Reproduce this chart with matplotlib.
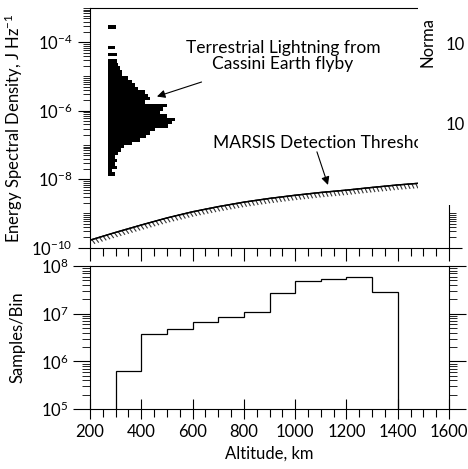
import matplotlib
matplotlib.use('Agg')
import numpy as np
import matplotlib.pyplot as plt
from matplotlib import patheffects
from matplotlib.patches import Rectangle
from matplotlib.ticker import LogLocator, MultipleLocator, NullFormatter, FixedLocator

plt.rcParams['font.family'] = ['Lato', 'DejaVu Sans']
plt.rcParams['mathtext.fontset'] = 'custom'
plt.rcParams['mathtext.rm'] = 'Lato'
plt.rcParams['mathtext.it'] = 'Lato:italic'
plt.rcParams['font.size'] = 12
plt.rcParams['axes.linewidth'] = 0.8

# samples per 100 km altitude bin
bin_edges = [300, 400, 500, 600, 700, 800, 900, 1000, 1100, 1200, 1300, 1400]
samples = [6.3e5, 3.7e6, 4.8e6, 6.7e6, 8.6e6, 1.07e7, 2.7e7, 4.8e7, 5.4e7, 5.8e7, 2.9e7]

# MARSIS detection threshold vs altitude
thr_alt = [200, 300, 400, 500, 600, 700, 800, 900, 1000, 1100, 1200, 1300, 1400, 1500, 1600]
thr_esd = [1.66e-10, 2.8e-10, 4.6e-10, 7.4e-10, 1.12e-9, 1.58e-9, 2.14e-9, 2.75e-9,
           3.4e-9, 4.1e-9, 4.8e-9, 5.75e-9, 6.8e-9, 7.8e-9, 8.9e-9]

# terrestrial lightning histogram (Cassini Earth flyby): log10 bin bottoms, bar lengths
ltg_logE = [-3.6, -4.2, -4.4, -4.6, -4.7, -4.8, -4.9, -5.0, -5.1, -5.2, -5.3, -5.4,
            -5.5, -5.6, -5.7, -5.8, -5.9, -6.0, -6.1, -6.2, -6.3, -6.4, -6.5, -6.6,
            -6.7, -6.8, -6.9, -7.0, -7.1, -7.2, -7.3, -7.4, -7.5, -7.6, -7.7, -7.8, -7.9]
ltg_len = [31, 27, 36, 34, 39, 47, 53, 53, 78, 92, 105, 117,
           144, 156, 164, 144, 229, 214, 203, 229, 261, 250, 234, 183,
           164, 148, 125, 94, 62, 51, 40, 27, 34, 27, 34, 16, 27]
ltg_left = 270
dlog = 0.1

fig = plt.figure(figsize=(4.68, 4.69), dpi=100)
ax1 = fig.add_axes([90/468, 1-247.7/469, 359/468, 239.7/469])
ax2 = fig.add_axes([90/468, 1-409/469, 359/468, 143/469])

# top panel
lo = 10.0 ** np.array(ltg_logE)
hi = 10.0 ** (np.array(ltg_logE) + dlog)
ax1.barh(lo, ltg_len, height=hi - lo, left=ltg_left, align='edge', color='black', lw=0)

ax1.plot(thr_alt, thr_esd, color='black', lw=1.0,
         path_effects=[patheffects.withTickedStroke(angle=-70, spacing=2.8, length=1.2,
                                                    linewidth=0.8, foreground='#333333'),
                       patheffects.Normal()])

ax1.set_yscale('log')
ax1.set_xlim(200, 1600)
ax1.set_ylim(1e-10, 1e-3)
ax1.yaxis.set_major_locator(FixedLocator([1e-10, 1e-8, 1e-6, 1e-4]))
ax1.yaxis.set_minor_locator(LogLocator(base=10, subs=np.arange(1, 10), numticks=20))
ax1.yaxis.set_minor_formatter(NullFormatter())
ax1.xaxis.set_major_locator(MultipleLocator(200))
ax1.xaxis.set_minor_locator(MultipleLocator(50))
ax1.tick_params(axis='x', which='major', direction='out', length=9, width=0.8, labelbottom=False)
ax1.tick_params(axis='x', which='minor', direction='out', length=6, width=0.8)
ax1.tick_params(axis='y', which='major', direction='out', length=9, width=0.8, right=True, labelsize=12)
ax1.tick_params(axis='y', which='minor', direction='out', length=5, width=0.6, right=True)
ax1.set_ylabel('Energy Spectral Density, J Hz$^{-1}$', fontsize=12)
ax1.yaxis.set_label_coords(-0.181, 0.5)

ax1.annotate('Terrestrial Lightning from\nCassini Earth flyby', xy=(461, 2.6e-6), xytext=(953, 4.1e-5),
             ha='center', va='center', fontsize=12.5, linespacing=1.0,
             arrowprops=dict(arrowstyle='-|>', color='black', lw=0.8, mutation_scale=12,
                             shrinkA=18, shrinkB=0))
ax1.text(680, 1.15e-7, 'MARSIS Detection Threshold', ha='left', va='center', fontsize=12.5)
ax1.annotate('', xy=(1128, 6.8e-9), xytext=(1085, 6.3e-8),
             arrowprops=dict(arrowstyle='-|>', color='black', lw=0.8, mutation_scale=12,
                             shrinkA=0, shrinkB=0))

# bottom panel
ax2.stairs(samples, bin_edges, baseline=1e4, color='black', lw=0.9)
ax2.set_yscale('log')
ax2.set_xlim(200, 1600)
ax2.set_ylim(1e5, 1e8)
ax2.yaxis.set_major_locator(LogLocator(base=10, numticks=10))
ax2.yaxis.set_minor_locator(LogLocator(base=10, subs=np.arange(2, 10), numticks=20))
ax2.yaxis.set_minor_formatter(NullFormatter())
ax2.xaxis.set_major_locator(MultipleLocator(200))
ax2.xaxis.set_minor_locator(MultipleLocator(50))
ax2.tick_params(axis='x', which='major', direction='inout', length=14, width=0.8, labelsize=12)
ax2.tick_params(axis='x', which='minor', direction='out', length=6, width=0.8)
ax2.tick_params(axis='y', which='major', direction='out', length=12, width=0.8, right=True, labelsize=12)
ax2.tick_params(axis='y', which='minor', direction='out', length=6, width=0.6, right=True)
ax2.set_ylabel('Samples/Bin', fontsize=12)
ax2.yaxis.set_label_coords(-0.181, 0.5)
ax2.set_xlabel('Altitude, km', fontsize=12)

# neighbouring panel overlapping on the right
fig.add_artist(Rectangle((418/468, 1-205/469), 50/468, 205/469, transform=fig.transFigure,
                         facecolor='white', edgecolor='none', zorder=5))
fig.text(428/468, 1-67/469, 'Norma', rotation=90, ha='center', va='bottom', fontsize=12, zorder=6)
fig.text(446/468, 1-45/469, '10', ha='left', va='center', fontsize=12, zorder=6)
fig.text(446/468, 1-125/469, '10', ha='left', va='center', fontsize=12, zorder=6)

fig.savefig('out.png', dpi=100)
